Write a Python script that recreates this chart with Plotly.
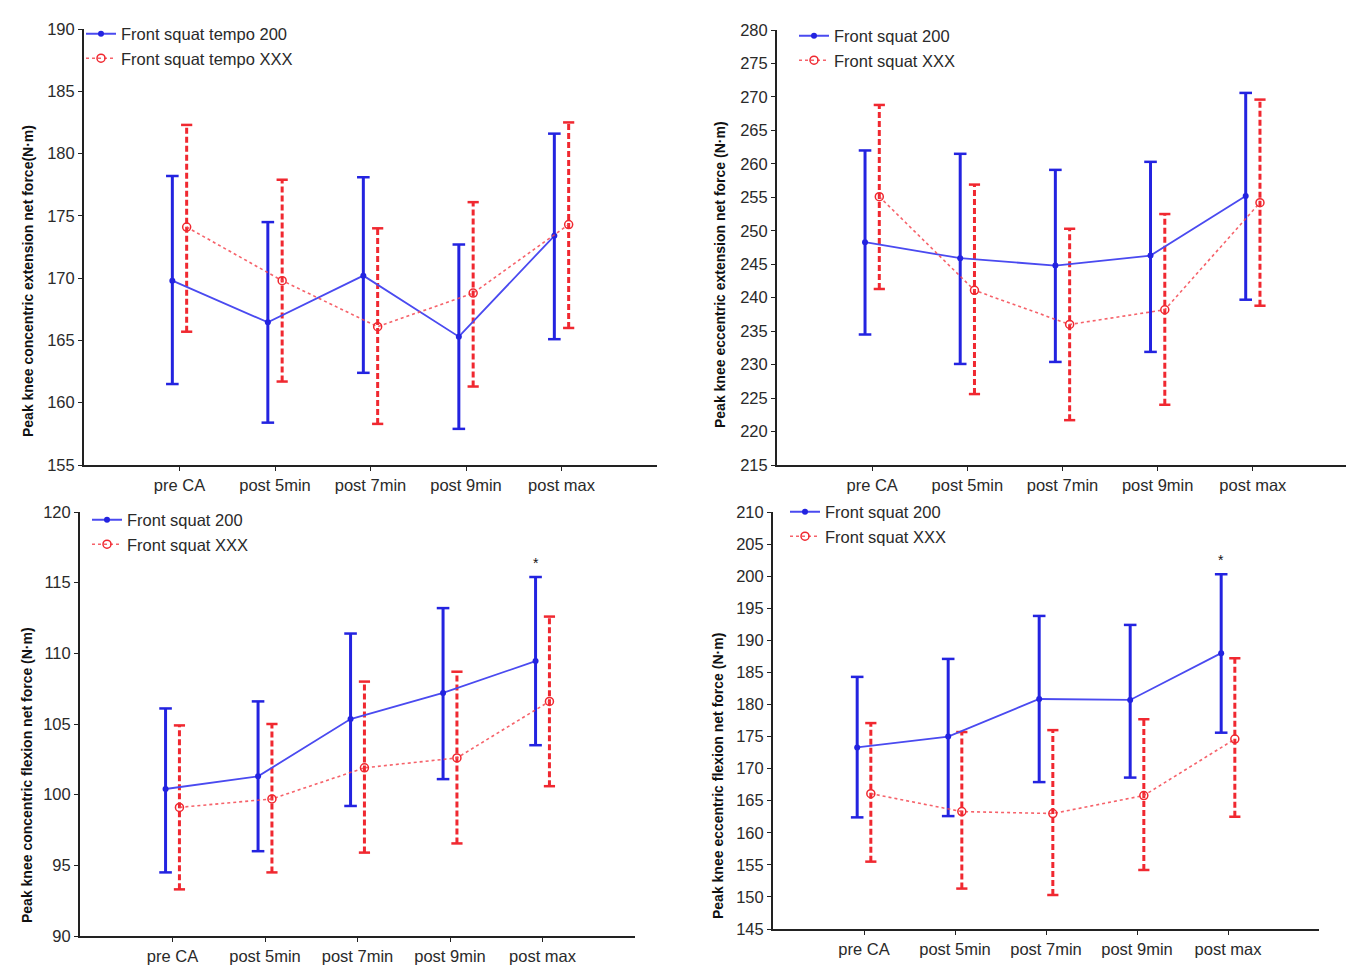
import plotly.graph_objects as go

categories = ["pre CA", "post 5min", "post 7min", "post 9min", "post max"]

# Panel 1: peak knee concentric extension
p1_blue_mean = [169.8, 166.45, 170.2, 165.3, 173.4]
p1_blue_lo = [161.5, 158.4, 162.4, 157.9, 165.1]
p1_blue_hi = [178.2, 174.5, 178.1, 172.7, 181.6]
p1_red_mean = [174.1, 169.8, 166.1, 168.8, 174.3]
p1_red_lo = [165.7, 161.7, 158.3, 161.3, 166.0]
p1_red_hi = [182.3, 177.9, 174.0, 176.1, 182.5]

# Panel 2: peak knee eccentric extension
p2_blue_mean = [248.3, 245.9, 244.8, 246.3, 255.2]
p2_blue_lo = [234.5, 230.1, 230.4, 231.9, 239.7]
p2_blue_hi = [262.0, 261.5, 259.1, 260.3, 270.6]
p2_red_mean = [255.1, 241.1, 236.0, 238.2, 254.2]
p2_red_lo = [241.3, 225.6, 221.7, 224.0, 238.8]
p2_red_hi = [268.8, 256.9, 250.3, 252.5, 269.6]

# Panel 3: peak knee concentric flexion
p3_blue_mean = [100.4, 101.3, 105.35, 107.2, 109.45]
p3_blue_lo = [94.5, 96.0, 99.2, 101.1, 103.5]
p3_blue_hi = [106.1, 106.6, 111.4, 113.2, 115.4]
p3_red_mean = [99.1, 99.7, 101.9, 102.6, 106.6]
p3_red_lo = [93.3, 94.5, 95.9, 96.55, 100.6]
p3_red_hi = [104.9, 105.0, 108.0, 108.7, 112.6]

# Panel 4: peak knee eccentric flexion
p4_blue_mean = [173.3, 175.0, 180.85, 180.7, 188.0]
p4_blue_lo = [162.4, 162.6, 167.9, 168.6, 175.6]
p4_blue_hi = [184.3, 187.1, 193.8, 192.4, 200.3]
p4_red_mean = [166.1, 163.3, 163.0, 165.8, 174.6]
p4_red_lo = [155.5, 151.3, 150.3, 154.2, 162.5]
p4_red_hi = [177.1, 175.7, 176.0, 177.7, 187.2]

# significance marks (category index)
p3_star = [4]
p4_star = [4]

y_titles = [
    "Peak knee concentric extension net force(N·m)",
    "Peak knee eccentric extension net force (N·m)",
    "Peak knee concentric flexion net force (N·m)",
    "Peak knee eccentric flexion net force (N·m)",
]
legend_names = [
    ("Front squat tempo 200", "Front squat tempo XXX"),
    ("Front squat 200", "Front squat XXX"),
    ("Front squat 200", "Front squat XXX"),
    ("Front squat 200", "Front squat XXX"),
]
y_ranges = [(155, 190), (215, 280), (90, 120), (145, 210)]

W, H = 1354, 972
PAGE_PAD = 8  # default body margin of the html page
FONT = "Arial, Liberation Sans, sans-serif"
BLUE = "#2323e0"
BLUE_LINE = "#4a4af0"
RED = "#f02830"
RED_LINE = "rgba(245,70,80,0.85)"
OFF = 0.075

def px_x(p):
    return (p - PAGE_PAD) / W

def px_y(p):
    return 1 - (p - PAGE_PAD) / H

# plot-area pixel boxes (in window pixels): left, right, top, bottom
boxes = [
    (84, 657, 29, 465),
    (777, 1348, 30, 465),
    (80, 635, 512, 936),
    (773, 1319, 512, 929),
]
title_pos = [(28, 281), (720, 275), (27, 775), (718, 776)]
legend_pos = [(81, 16.5), (794, 18.5), (87, 502.5), (785, 494.5)]

panels = [
    (p1_blue_mean, p1_blue_lo, p1_blue_hi, p1_red_mean, p1_red_lo, p1_red_hi, []),
    (p2_blue_mean, p2_blue_lo, p2_blue_hi, p2_red_mean, p2_red_lo, p2_red_hi, []),
    (p3_blue_mean, p3_blue_lo, p3_blue_hi, p3_red_mean, p3_red_lo, p3_red_hi, p3_star),
    (p4_blue_mean, p4_blue_lo, p4_blue_hi, p4_red_mean, p4_red_lo, p4_red_hi, p4_star),
]

fig = go.Figure()
layout = dict(
    width=W, height=H, margin=dict(l=0, r=0, t=0, b=0, autoexpand=False),
    paper_bgcolor="white", plot_bgcolor="white",
    font=dict(family=FONT, size=16.5, color="#2a2a2a"),
    showlegend=True,
)
annotations = []
idx = list(range(len(categories)))

for k, (bm, bl, bh, rm, rl, rh, stars) in enumerate(panels):
    n = k + 1
    xa = "x" if n == 1 else f"x{n}"
    ya = "y" if n == 1 else f"y{n}"
    leg = "legend" if n == 1 else f"legend{n}"
    xb = [i - OFF for i in idx]
    xr = [i + OFF for i in idx]

    # red dashed error bars
    ex, ey = [], []
    for i in idx:
        ex += [xr[i], xr[i], None]
        ey += [rl[i], rh[i], None]
    fig.add_trace(go.Scatter(
        x=ex, y=ey, xaxis=xa, yaxis=ya, mode="lines+markers",
        line=dict(color=RED, width=3, dash="6px,3px"),
        marker=dict(symbol="line-ew-open", size=8, line=dict(color=RED, width=2.5)),
        showlegend=False, hoverinfo="skip", legend=leg,
    ))
    # blue solid error bars
    bx, by = [], []
    for i in idx:
        bx += [xb[i], xb[i], None]
        by += [bl[i], bh[i], None]
    fig.add_trace(go.Scatter(
        x=bx, y=by, xaxis=xa, yaxis=ya, mode="lines+markers",
        line=dict(color=BLUE, width=3),
        marker=dict(symbol="line-ew-open", size=9, line=dict(color=BLUE, width=2.5)),
        showlegend=False, hoverinfo="skip", legend=leg,
    ))
    # mean lines
    fig.add_trace(go.Scatter(
        x=xb, y=bm, xaxis=xa, yaxis=ya, mode="lines+markers",
        name=legend_names[k][0], legend=leg,
        line=dict(color=BLUE_LINE, width=1.8),
        marker=dict(symbol="circle", size=6, color=BLUE),
    ))
    fig.add_trace(go.Scatter(
        x=xr, y=rm, xaxis=xa, yaxis=ya, mode="lines+markers",
        name=legend_names[k][1], legend=leg,
        line=dict(color=RED_LINE, width=1.6, dash="dot"),
        marker=dict(symbol="circle-open", size=8, color=RED, line=dict(width=1.5)),
    ))

    l, r, t, b = boxes[k]
    layout[f"xaxis{'' if n == 1 else n}"] = dict(
        domain=[px_x(l), px_x(r)], anchor=ya, range=[-1, len(categories)],
        tickmode="array", tickvals=idx, ticktext=categories, automargin=False,
        showline=True, linecolor="#222", linewidth=2, ticks="outside",
        ticklen=4, tickcolor="#222", showgrid=False, zeroline=False,
        tickfont=dict(family=FONT, size=16.5, color="#2a2a2a"),
    )
    y0, y1 = y_ranges[k]
    layout[f"yaxis{'' if n == 1 else n}"] = dict(
        domain=[px_y(b), px_y(t)], anchor=xa, range=[y0, y1], dtick=5,
        automargin=False,
        showline=True, linecolor="#222", linewidth=2, ticks="outside",
        ticklen=4, tickcolor="#222", showgrid=False, zeroline=False,
        tickfont=dict(family=FONT, size=16.5, color="#2a2a2a"),
    )
    lx, ly = legend_pos[k]
    layout[leg] = dict(
        x=px_x(lx), y=px_y(ly), xanchor="left", yanchor="top",
        bgcolor="rgba(0,0,0,0)", borderwidth=0,
        font=dict(family=FONT, size=16.5, color="#2a2a2a"),
        tracegroupgap=0, itemwidth=30,
    )
    tx, ty = title_pos[k]
    annotations.append(dict(
        x=px_x(tx), y=px_y(ty), xref="paper", yref="paper",
        text=f"<b>{y_titles[k]}</b>", textangle=-90, showarrow=False,
        font=dict(family=FONT, size=14, color="#111"),
        xanchor="center", yanchor="middle",
    ))
    for s in stars:
        annotations.append(dict(
            x=xb[s], y=bh[s], xref=xa, yref=ya, text="*", showarrow=False,
            yanchor="bottom", yshift=4, font=dict(family=FONT, size=14, color="#111"),
        ))

layout["annotations"] = annotations
fig.update_layout(**layout)
fig.write_html("out.html")
